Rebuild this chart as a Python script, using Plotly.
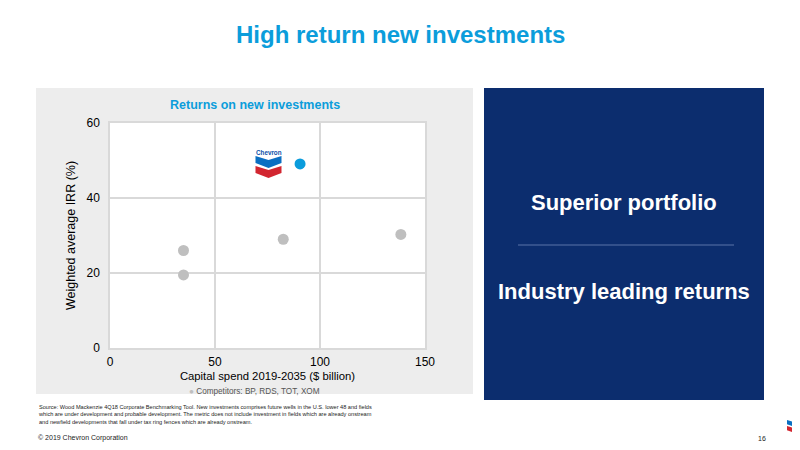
import plotly.graph_objects as go

# ---- data ----
competitor_spend = [35, 35, 82.5, 138.5]
competitor_irr = [26, 19.5, 29, 30.3]
chevron_spend = [90.5]
chevron_irr = [49.1]
x_ticks = [0, 50, 100, 150]
y_ticks = [0, 20, 40, 60]

OFF = 8  # page body margin offset
W, H = 800 - OFF, 450 - OFF
PL, PR, PT, PB = 110, 425, 123, 348  # plot area in reference pixels

def px(x):
    return (x - PL) / (PR - PL)

def py(y):
    return (PB - y) / (PB - PT)

FONT = "Liberation Sans, Arial, sans-serif"
BLUE = "#0b9ddb"
NAVY = "#0c2d6e"

fig = go.Figure()
fig.add_trace(go.Scatter(x=competitor_spend, y=competitor_irr, mode="markers",
                         marker=dict(size=11, color="#bfbfbf"), showlegend=False,
                         name="Competitors"))
fig.add_trace(go.Scatter(x=chevron_spend, y=chevron_irr, mode="markers",
                         marker=dict(size=11, color="#0a9cdc"), showlegend=False,
                         name="Chevron"))

shapes = []
shapes.append(dict(type="rect", xref="paper", yref="paper", layer="below",
                   x0=px(36), x1=px(473), y0=py(88), y1=py(394),
                   fillcolor="#ededed", line=dict(width=0)))
shapes.append(dict(type="rect", xref="paper", yref="paper", layer="below",
                   x0=0, x1=1, y0=0, y1=1,
                   fillcolor="white", line=dict(width=0)))
shapes.append(dict(type="rect", xref="paper", yref="paper", layer="below",
                   x0=px(484), x1=px(764), y0=py(88), y1=py(400),
                   fillcolor=NAVY, line=dict(width=0)))
shapes.append(dict(type="line", xref="paper", yref="paper",
                   x0=px(518), x1=px(734), y0=py(245), y1=py(245),
                   line=dict(color="#5a74a8", width=1)))

def poly(pts, color):
    d = "M " + " L ".join(f"{px(a):.5f},{py(b):.5f}" for a, b in pts) + " Z"
    return dict(type="path", xref="paper", yref="paper", path=d,
                fillcolor=color, line=dict(width=0))

def logo(x0, y0, s):
    w = 26 * s
    out = []
    out.append(poly([(x0, y0), (x0 + w / 2, y0 + 4 * s), (x0 + w, y0),
                     (x0 + w, y0 + 7 * s), (x0 + w / 2, y0 + 12 * s), (x0, y0 + 7 * s)], "#0a6fc2"))
    out.append(poly([(x0, y0 + 10 * s), (x0 + w / 2, y0 + 14 * s), (x0 + w, y0 + 10 * s),
                     (x0 + w, y0 + 17 * s), (x0 + w / 2, y0 + 22 * s), (x0, y0 + 17 * s)], "#d22630"))
    return out

shapes += logo(255.5, 156, 1.0)
shapes += logo(787, 420, 0.6)

def ann(text, x, y, size, color="#222222", xanchor="center", yanchor="middle", align="center"):
    return dict(text=text, x=px(x), y=py(y), xref="paper", yref="paper", showarrow=False,
                font=dict(size=size, color=color, family=FONT), xanchor=xanchor,
                yanchor=yanchor, align=align)

annotations = [
    ann("<b>High return new investments</b>", 400, 35, 24, BLUE),
    ann("<b>Returns on new investments</b>", 255, 105, 12.5, BLUE),
    ann("<b>Chevron</b>", 268.5, 152, 6.3, "#0a4fa8"),
    ann("<span style='color:#bfbfbf'>●</span> Competitors: BP, RDS, TOT, XOM", 254, 391, 8.2, "#555555"),
    ann("<b>Superior portfolio</b>", 624, 202, 22, "white"),
    ann("<b>Industry leading returns</b>", 624, 291, 22, "white"),
    ann("Source: Wood Mackenzie 4Q18 Corporate Benchmarking Tool. New investments comprises future wells in the U.S. lower 48 and fields<br>"
        "which are under development and probable development. The metric does not include investment in fields which are already onstream<br>"
        "and newfield developments that fall under tax ring fences which are already onstream.",
        36, 402, 5.6, xanchor="left", yanchor="top", align="left"),
    ann("© 2019 Chevron Corporation", 36, 438, 7, xanchor="left"),
    ann("16", 762, 438, 7),
]

fig.update_layout(
    width=W, height=H,
    margin=dict(l=PL - OFF, r=800 - PR, t=PT - OFF, b=450 - PB, pad=0),
    paper_bgcolor="white", plot_bgcolor="white",
    font=dict(family=FONT, color="#000000", size=12),
    shapes=shapes, annotations=annotations,
    showlegend=False,
)
fig.update_xaxes(range=[0, 150], tickvals=x_ticks, showgrid=True, gridcolor="#d9d9d9", gridwidth=1.5,
                 zeroline=False, showline=True, linecolor="#d9d9d9", linewidth=1.5, mirror=True,
                 ticks="", tickfont=dict(size=12), ticklabelstandoff=2,
                 title=dict(text="Capital spend 2019-2035 ($ billion)", font=dict(size=11.3), standoff=4))
fig.update_yaxes(range=[0, 60], tickvals=y_ticks, showgrid=True, gridcolor="#d9d9d9", gridwidth=1.5,
                 zeroline=False, showline=True, linecolor="#d9d9d9", linewidth=1.5, mirror=True,
                 ticks="", tickfont=dict(size=12), ticklabelstandoff=6,
                 title=dict(text="Weighted average IRR (%)", font=dict(size=12.5), standoff=8))

fig.write_html("out.html")
